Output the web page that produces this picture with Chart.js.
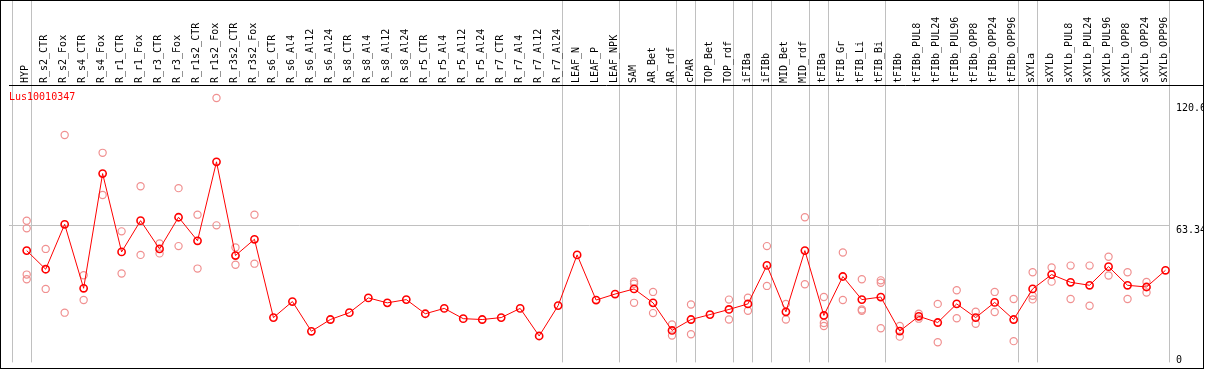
<!DOCTYPE html>
<html>
<head>
<meta charset="utf-8">
<script src="https://cdn.jsdelivr.net/npm/chart.js@4"></script>
<style>
  body { margin: 0; background: #fff; }
  #frame { position: absolute; left: 0; top: 0; width: 1202px; height: 367px; border: 1px solid #000; }
</style>
</head>
<body>
<div id="frame"><canvas id="exprChart"></canvas></div>
<script>
// Sample names along the top
const categories = [
    'HYP', 'R_s2_CTR', 'R_s2_Fox', 'R_s4_CTR', 'R_s4_Fox', 'R_r1_CTR', 'R_r1_Fox',
    'R_r3_CTR', 'R_r3_Fox', 'R_r1s2_CTR', 'R_r1s2_Fox', 'R_r3s2_CTR', 'R_r3s2_Fox',
    'R_s6_CTR', 'R_s6_Al4', 'R_s6_Al12', 'R_s6_Al24', 'R_s8_CTR', 'R_s8_Al4', 'R_s8_Al12',
    'R_s8_Al24', 'R_r5_CTR', 'R_r5_Al4', 'R_r5_Al12', 'R_r5_Al24', 'R_r7_CTR', 'R_r7_Al4',
    'R_r7_Al12', 'R_r7_Al24', 'LEAF_N', 'LEAF_P', 'LEAF_NPK', 'SAM', 'AR_Bet', 'AR_rdf',
    'cPAR', 'TOP_Bet', 'TOP_rdf', 'iFIBa', 'iFIBb', 'MID_Bet', 'MID_rdf', 'tFIBa',
    'tFIB_Gr', 'tFIB_Li', 'tFIB_Bi', 'tFIBb', 'tFIBb_PUL8', 'tFIBb_PUL24', 'tFIBb_PUL96',
    'tFIBb_OPP8', 'tFIBb_OPP24', 'tFIBb_OPP96', 'sXYLa', 'sXYLb', 'sXYLb_PUL8',
    'sXYLb_PUL24', 'sXYLb_PUL96', 'sXYLb_OPP8', 'sXYLb_OPP24', 'sXYLb_OPP96'
];

const seriesName = 'Lus10010347';

// Mean expression per sample (red line)
const meanValues = [
    51.6, 42.9, 63.9, 34.0, 87.6, 51.0, 65.6, 52.4, 67.2, 56.2, 93.1, 49.3, 56.9,
    20.3, 27.8, 13.9, 19.4, 22.6, 29.5, 27.2, 28.7, 22.1, 24.6, 19.8, 19.4, 20.3, 24.6,
    11.7, 25.9, 49.6, 28.5, 31.3, 33.7, 27.2, 14.3, 19.4, 21.7, 24.1, 26.7, 44.7, 23.0,
    51.6, 21.3, 39.5, 28.7, 29.9, 14.0, 20.9, 18.0, 26.7, 20.3, 27.4, 19.4, 33.7, 40.4,
    36.8, 35.4, 44.1, 35.4, 34.6, 42.4
];

// Individual replicates (pink circles), null where none is shown
const rep1 = [
    65.6, 52.4, 105.6, 40.1, 97.3, 60.6, 81.7, 54.9, 80.8, 68.4, 122.9, 53.1, 68.4,
    null, null, null, null, null, null, null, null, null, null, null, null, null, null,
    null, null, null, null, null, 37.1, 32.3, 17.1, 26.4, null, 28.7, 29.6, 53.7, 26.7,
    67.2, 29.9, 50.7, 38.2, 37.7, 16.4, 22.1, 26.7, 33.1, 23.0, 32.3, 29.0, 41.5, 43.7,
    44.6, 44.6, 48.7, 41.5, 36.9, null
];
const rep2 = [
    62.0, 33.7, 22.6, 28.5, 77.6, 40.9, 49.6, 50.3, 53.7, 43.2, 63.4, 45.0, 45.5,
    null, null, null, null, null, null, null, null, null, null, null, null, null, null,
    null, null, null, null, null, 36.1, 22.4, 11.9, 12.5, null, 19.4, 23.5, 35.1, 19.4,
    35.9, 17.8, 28.5, 24.1, 36.6, 11.4, 19.8, 8.8, 20.0, 17.4, 22.9, 9.3, 30.5, 37.1,
    29.0, 25.8, 40.0, 29.0, 32.0, null
];
const rep3 = [
    40.4, null, null, null, null, null, null, null, null, null, null, null, null,
    null, null, null, null, null, null, null, null, null, null, null, null, null, null,
    null, null, null, null, null, 27.2, null, null, null, null, null, null, null, null,
    null, 16.4, null, 23.5, 15.3, null, null, null, null, null, null, null, 28.8, null,
    null, null, null, null, null, null
];
const rep4 = [
    38.2, null, null, null, null, null, null, null, null, null, null, null, null,
    null, null, null, null, null, null, null, null, null, null, null, null, null, null,
    null, null, null, null, null, null, null, null, null, null, null, null, null, null,
    null, null, null, null, null, null, null, null, null, null, null, null, null, null,
    null, null, null, null, null, null
];

// Last sample index of each group (vertical separators)
const groupEnds = [-1, 0, 28, 31, 34, 35, 37, 38, 39, 41, 42, 45, 52, 53, 60];

const yTickValues = [0, 63.34, 120.6];

const GRID = '#c0c0c0';
const NONE = 'rgba(0,0,0,0)';

Chart.defaults.font.family = "'DejaVu Sans Mono', monospace";
Chart.defaults.font.size = 10;
Chart.defaults.color = '#000';

function toPoints(values) {
    return values.map((v, i) => ({ x: i, y: v })).filter(p => p.y !== null);
}

function repDataset(values) {
    return {
        label: 'rep',
        data: toPoints(values),
        showLine: false,
        pointRadius: 3.6,
        pointBorderWidth: 1.2,
        pointBorderColor: '#f09090',
        pointBackgroundColor: NONE
    };
}

const ctx = document.getElementById('exprChart').getContext('2d');
const chart = new Chart(ctx, {
    type: 'line',
    data: {
        datasets: [
            {
                label: seriesName,
                data: toPoints(meanValues),
                borderColor: '#ff0000',
                borderWidth: 1,
                pointRadius: 3.6,
                pointBorderWidth: 1.6,
                pointBorderColor: '#ff0000',
                pointBackgroundColor: NONE
            },
            repDataset(rep1),
            repDataset(rep2),
            repDataset(rep3),
            repDataset(rep4)
        ]
    },
    options: {
        responsive: true,
        maintainAspectRatio: false,
        animation: false,
        layout: { padding: { left: 8, top: 0, right: 0, bottom: 0 } },
        scales: {
            x: {
                type: 'linear',
                position: 'top',
                fullSize: true,
                min: -0.9326,
                max: 61.976,
                afterBuildTicks: scale => {
                    scale.ticks = categories.map((c, i) => ({ value: i }))
                        .concat(groupEnds.map(g => ({ value: g + 0.23 })));
                },
                afterFit: scale => {
                    scale.height = 84;
                    scale.paddingLeft = 0;
                    scale.paddingRight = 0;
                },
                border: { display: true, color: '#000', width: 1 },
                grid: {
                    tickLength: 84,
                    lineWidth: 1,
                    color: c => (c.tick && Number.isInteger(c.tick.value)) ? NONE : GRID
                },
                ticks: {
                    autoSkip: false,
                    minRotation: 90,
                    maxRotation: 90,
                    padding: -82,
                    labelOffset: 11,
                    callback: v => Number.isInteger(v) ? categories[v] : ''
                }
            },
            y: {
                position: 'right',
                min: -0.64,
                max: 129,
                afterBuildTicks: scale => {
                    scale.ticks = yTickValues.map(v => ({ value: v }));
                },
                afterFit: scale => {
                    scale.width = 33;
                    scale.paddingTop = 0;
                    scale.paddingBottom = 0;
                },
                border: { display: false },
                grid: {
                    drawTicks: false,
                    color: c => (c.tick && c.tick.value === 63.34) ? GRID : NONE
                },
                ticks: {
                    align: 'start',
                    padding: 6,
                    callback: v => v === 0 ? ['0', ''] : String(v)
                }
            }
        },
        plugins: {
            legend: { display: false },
            title: {
                display: true,
                text: seriesName,
                color: '#ff0000',
                align: 'start',
                position: 'top',
                font: { size: 10, weight: 'normal', lineHeight: 1.2 },
                padding: { top: 90, bottom: -102 }
            },
            tooltip: { enabled: false }
        }
    }
});
</script>
</body>
</html>
